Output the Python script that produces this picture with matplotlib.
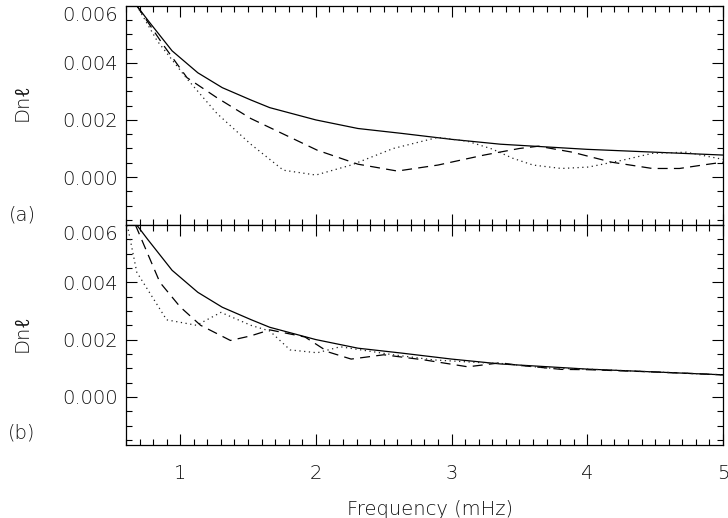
import numpy as np
import matplotlib.pyplot as plt
from matplotlib.ticker import MultipleLocator

# ====== data (frequency in mHz) ======
x_solid = [0.68, 0.76, 0.94, 1.13, 1.31, 1.52, 1.66, 2.0, 2.31, 2.63, 3.0, 3.36, 4.0, 5.0]
y_solid = [0.0060, 0.0055, 0.00442, 0.00365, 0.00313, 0.0027, 0.00243, 0.0020,
           0.0017, 0.00153, 0.00132, 0.00115, 0.00097, 0.00077]

# panel (a)
xa_dash = [0.68, 0.87, 1.05, 1.27, 1.52, 2.01, 2.31, 2.6, 2.9, 3.24, 3.5, 3.64,
           3.89, 4.18, 4.48, 4.68, 4.85, 5.0]
ya_dash = [0.0060, 0.00466, 0.00348, 0.00278, 0.00205, 0.00094, 0.00045, 0.00021,
           0.00042, 0.00077, 0.0010, 0.00108, 0.00087, 0.00052, 0.0003, 0.0003,
           0.00042, 0.00052]
xa_dot = [0.68, 0.83, 1.05, 1.27, 1.52, 1.76, 2.0, 2.26, 2.57, 2.9, 3.12, 3.3,
          3.45, 3.6, 3.81, 4.01, 4.26, 4.48, 4.73, 5.0]
ya_dot = [0.0060, 0.00477, 0.00344, 0.00223, 0.00115, 0.00024, 0.00007, 0.00042,
          0.0010, 0.00139, 0.00125, 0.00098, 0.00066, 0.00042, 0.0003, 0.00035,
          0.00059, 0.00083, 0.00087, 0.00062]

# panel (b)
xb_dash = [0.67, 0.85, 1.0, 1.15, 1.37, 1.52, 1.66, 1.92, 2.09, 2.26, 2.5, 2.8,
           3.12, 3.36, 3.5, 3.81, 4.0, 4.5, 5.0]
yb_dash = [0.0060, 0.0040, 0.00314, 0.0025, 0.00197, 0.00213, 0.00234, 0.00209,
           0.00157, 0.00132, 0.00147, 0.00129, 0.00105, 0.00119, 0.0011, 0.00096,
           0.00095, 0.00087, 0.00077]
xb_dot = [0.61, 0.68, 0.9, 1.12, 1.3, 1.52, 1.66, 1.81, 2.01, 2.18, 2.57, 2.87,
          3.2, 3.36, 3.7, 4.0, 4.5, 5.0]
yb_dot = [0.0060, 0.00435, 0.00269, 0.0025, 0.00295, 0.0025, 0.0023, 0.00164,
          0.00154, 0.00175, 0.00147, 0.00129, 0.0012, 0.00117, 0.00101, 0.00097,
          0.00087, 0.00077]

yticks = [0.000, 0.002, 0.004, 0.006]
xticks = [1, 2, 3, 4, 5]

plt.rcParams['font.family'] = ['DejaVu Sans', 'Noto Sans']
plt.rcParams['font.weight'] = 'light'
plt.rcParams['axes.labelweight'] = 'light'
txt_col = '#111111'

fig = plt.figure(figsize=(7.28, 5.18), dpi=100)
ax_a = fig.add_axes([0.173, 0.5656, 0.820, 0.4234])
ax_b = fig.add_axes([0.173, 0.1409, 0.820, 0.4247])

panels = [(ax_a, xa_dash, ya_dash, xa_dot, ya_dot),
          (ax_b, xb_dash, yb_dash, xb_dot, yb_dot)]

for ax, xd, yd, xo, yo in panels:
    ax.plot(x_solid, y_solid, color='black', lw=0.9)
    ax.plot(xd, yd, color='black', lw=0.9, dashes=(8, 5))
    ax.plot(xo, yo, color='#222222', lw=0.9, dashes=(1, 2.8))
    ax.set_xlim(0.6, 5.0)
    ax.set_ylim(-0.00168, 0.006)
    ax.set_yticks(yticks)
    ax.set_yticklabels([f"{v:.3f}" for v in yticks])
    ax.set_xticks(xticks)
    ax.xaxis.set_minor_locator(MultipleLocator(0.1))
    ax.yaxis.set_minor_locator(MultipleLocator(0.0005))
    ax.tick_params(which='both', direction='in', top=True, right=True,
                   colors='black', labelcolor=txt_col)
    ax.tick_params(which='major', length=8, width=0.8)
    ax.tick_params(which='minor', length=4, width=0.8)
    ax.tick_params(axis='y', labelsize=14, pad=6)
    ax.tick_params(axis='x', labelsize=14, pad=14)
    for s in ax.spines.values():
        s.set_linewidth(0.9)
    # top label sits below its tick like in the original
    ax.yaxis.get_major_ticks()[-1].label1.set_verticalalignment('top')

ax_a.tick_params(axis='x', labelbottom=False)
ax_b.set_xlabel("Frequency (mHz)", fontsize=14, color=txt_col)
ax_b.xaxis.set_label_coords(0.51, -0.25)

fig.text(0.0302, 0.803, "Dnℓ", rotation=90, ha='center', va='center',
         fontsize=14, color=txt_col)
fig.text(0.0302, 0.357, "Dnℓ", rotation=90, ha='center', va='center',
         fontsize=14, color=txt_col)
fig.text(0.0302, 0.585, "(a)", ha='center', va='center', fontsize=14, color=txt_col)
fig.text(0.0302, 0.164, "(b)", ha='center', va='center', fontsize=14, color=txt_col)

fig.savefig("out.png", dpi=100)
